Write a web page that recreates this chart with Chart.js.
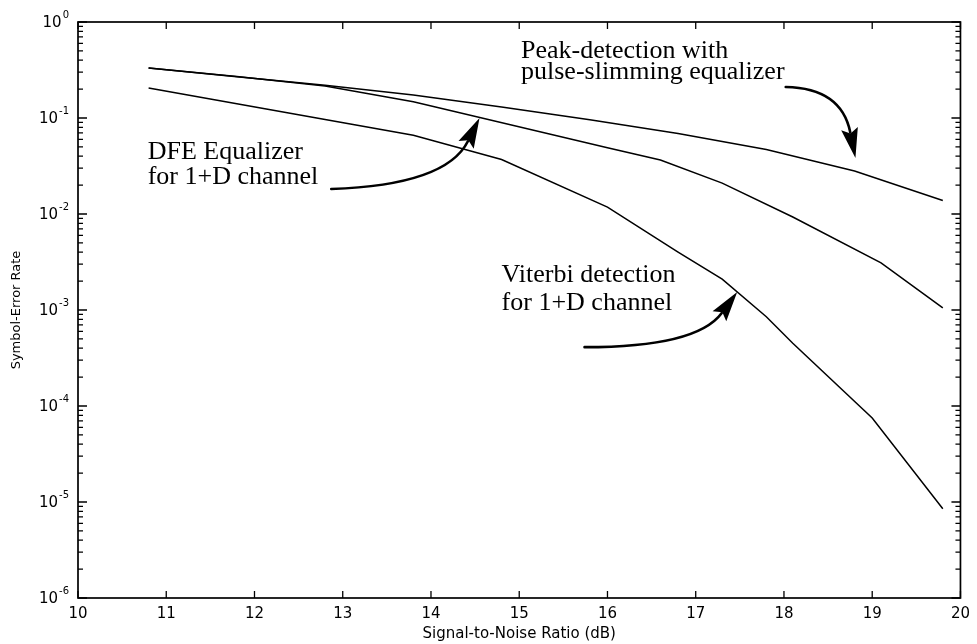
<!DOCTYPE html>
<html>
<head>
<meta charset="utf-8">
<title>Symbol-Error Rate vs SNR</title>
<script src="https://cdn.jsdelivr.net/npm/chart.js@4.4.1/dist/chart.umd.min.js"></script>
<style>
  html, body { margin: 0; padding: 0; background: #fff; }
  #wrap { width: 977px; height: 644px; }
</style>
</head>
<body>
<div id="wrap"><canvas id="serChart" width="977" height="644"></canvas></div>
<script>
// ── Data: SNR (dB) against symbol-error rate for each detector ──

var peakSnr = [10.8, 11.8, 12.8, 13.8, 14.8, 15.8, 16.8, 17.8, 18.8, 19.8];
var peakSer = [0.332, 0.269, 0.219, 0.174, 0.130, 0.096, 0.069, 0.047, 0.028, 0.0138];

var dfeSnr = [10.8, 11.8, 12.8, 13.8, 16.0, 16.6, 17.3, 18.1, 19.1, 19.8];
var dfeSer = [0.332, 0.270, 0.216, 0.148, 0.049, 0.0365, 0.021, 0.0093, 0.0031, 0.00105];

var viterbiSnr = [10.8, 13.8, 14.8, 16.0, 16.8, 17.3, 17.8, 18.1, 19.0, 19.8];
var viterbiSer = [0.205, 0.066, 0.037, 0.0118, 0.0040, 0.0021, 0.00085, 0.00045, 0.000075, 0.0000085];

var snrTicks = [10, 11, 12, 13, 14, 15, 16, 17, 18, 19, 20];
var serDecades = [0, -1, -2, -3, -4, -5, -6];

// callout text, anchored at its baseline in (dB, rate)
var noteLines = [
    { text: "Peak-detection with",      snr: 15.02, ser: 0.42 },
    { text: "pulse-slimming equalizer", snr: 15.02, ser: 0.255 },
    { text: "DFE Equalizer",            snr: 10.79, ser: 0.0374 },
    { text: "for 1+D channel",          snr: 10.79, ser: 0.0205 },
    { text: "Viterbi detection",        snr: 14.80, ser: 0.00196 },
    { text: "for 1+D channel",          snr: 14.80, ser: 0.0010 }
];

// curved pointers: tail, bend (quadratic control) and tip
var pointers = [
    { from: [18.02, 0.210],  bend: [18.65, 0.205],  to: [18.81, 0.0383] },
    { from: [12.87, 0.0182], bend: [14.17, 0.0200], to: [14.55, 0.100] },
    { from: [15.74, 4.1e-4], bend: [17.01, 4.1e-4], to: [17.47, 1.54e-3] }
];

(function () {
    "use strict";

    var SANS = '"DejaVu Sans", sans-serif';
    var SERIF = '"Liberation Serif", "Times New Roman", serif';

    // ── Helpers ──

    function toPoints(snr, ser) {
        return snr.map(function (s, i) { return { x: s, y: ser[i] }; });
    }

    function px(chart, pair) {
        return {
            x: chart.scales.x.getPixelForValue(pair[0]),
            y: chart.scales.y.getPixelForValue(pair[1])
        };
    }

    function drawPointer(ctx, a, c, tip) {
        var dx = tip.x - c.x, dy = tip.y - c.y;
        var d = Math.sqrt(dx * dx + dy * dy);
        var ux = dx / d, uy = dy / d;
        var headLen = 30, headHalf = 8.5;
        var base = { x: tip.x - ux * headLen, y: tip.y - uy * headLen };

        ctx.beginPath();
        ctx.moveTo(a.x, a.y);
        ctx.quadraticCurveTo(c.x, c.y, base.x + ux * 4, base.y + uy * 4);
        ctx.lineWidth = 2.6;
        ctx.stroke();

        ctx.beginPath();
        ctx.moveTo(tip.x, tip.y);
        ctx.lineTo(base.x - uy * headHalf, base.y + ux * headHalf);
        ctx.lineTo(base.x + ux * 5, base.y + uy * 5);
        ctx.lineTo(base.x + uy * headHalf, base.y - ux * headHalf);
        ctx.closePath();
        ctx.fill();
    }

    // ── Plugins ──

    // boxed axes with inward ticks and 10^n labels
    var axesBox = {
        id: "axesBox",
        afterDraw: function (chart) {
            var ctx = chart.ctx, area = chart.chartArea;
            var xs = chart.scales.x, ys = chart.scales.y;
            ctx.save();
            ctx.strokeStyle = "#000";
            ctx.fillStyle = "#000";
            ctx.lineWidth = 1.7;
            ctx.strokeRect(area.left, area.top, area.right - area.left, area.bottom - area.top);

            ctx.beginPath();
            snrTicks.forEach(function (v) {
                var x = xs.getPixelForValue(v);
                ctx.moveTo(x, area.bottom); ctx.lineTo(x, area.bottom - 7);
                ctx.moveTo(x, area.top); ctx.lineTo(x, area.top + 7);
            });
            serDecades.forEach(function (e) {
                for (var m = 1; m < 10; m++) {
                    var v = m * Math.pow(10, e);
                    if (v > 1.0001) break;
                    var y = ys.getPixelForValue(v);
                    var len = m === 1 ? 9 : 5;
                    ctx.moveTo(area.left, y); ctx.lineTo(area.left + len, y);
                    ctx.moveTo(area.right, y); ctx.lineTo(area.right - len, y);
                }
            });
            ctx.lineWidth = 1.3;
            ctx.stroke();

            ctx.textAlign = "right";
            ctx.textBaseline = "middle";
            serDecades.forEach(function (e) {
                var y = ys.getPixelForValue(Math.pow(10, e));
                var exp = String(e);
                ctx.font = "10px " + SANS;
                var w = ctx.measureText(exp).width;
                ctx.fillText(exp, area.left - 9, y - 7);
                ctx.font = "15px " + SANS;
                ctx.fillText("10", area.left - 10 - w, y + 1);
            });
            ctx.restore();
        }
    };

    // callout text and arrows
    var callouts = {
        id: "callouts",
        afterDraw: function (chart) {
            var ctx = chart.ctx;
            ctx.save();
            ctx.fillStyle = "#000";
            ctx.strokeStyle = "#000";
            ctx.font = "26px " + SERIF;
            ctx.textAlign = "left";
            ctx.textBaseline = "alphabetic";
            noteLines.forEach(function (n) {
                var p = px(chart, [n.snr, n.ser]);
                ctx.fillText(n.text, p.x, p.y);
            });
            ctx.lineCap = "round";
            pointers.forEach(function (a) {
                drawPointer(ctx, px(chart, a.from), px(chart, a.bend), px(chart, a.to));
            });
            ctx.restore();
        }
    };

    // ── Chart ──

    function lineSet(label, snr, ser) {
        return {
            label: label,
            data: toPoints(snr, ser),
            borderColor: "#000",
            borderWidth: 1.5,
            pointRadius: 0,
            fill: false,
            tension: 0
        };
    }

    new Chart(document.getElementById("serChart"), {
        type: "line",
        data: {
            datasets: [
                lineSet("Peak-detection with pulse-slimming equalizer", peakSnr, peakSer),
                lineSet("DFE Equalizer for 1+D channel", dfeSnr, dfeSer),
                lineSet("Viterbi detection for 1+D channel", viterbiSnr, viterbiSer)
            ]
        },
        options: {
            responsive: false,
            animation: false,
            devicePixelRatio: 1,
            layout: { padding: { top: 22, right: 15, left: 0, bottom: 0 } },
            plugins: {
                legend: { display: false },
                tooltip: { enabled: false }
            },
            scales: {
                x: {
                    type: "linear",
                    min: 10,
                    max: 20,
                    grid: { display: false, drawTicks: false },
                    border: { display: false },
                    ticks: {
                        stepSize: 1,
                        autoSkip: false,
                        maxRotation: 0,
                        padding: 7,
                        color: "#000",
                        font: { family: SANS, size: 15 }
                    },
                    title: {
                        display: true,
                        text: "Signal-to-Noise Ratio (dB)",
                        color: "#000",
                        font: { family: SANS, size: 15 },
                        padding: { top: 0, bottom: 1 }
                    },
                    afterFit: function (scale) { scale.height = 46; }
                },
                y: {
                    type: "logarithmic",
                    min: 1e-6,
                    max: 1,
                    grid: { display: false, drawTicks: false },
                    border: { display: false },
                    ticks: { display: false },
                    title: {
                        display: true,
                        text: "Symbol-Error Rate",
                        color: "#000",
                        font: { family: SANS, size: 13 },
                        padding: { top: 9, bottom: 0 }
                    },
                    afterFit: function (scale) { scale.width = 78; }
                }
            }
        },
        plugins: [axesBox, callouts]
    });
})();
</script>
</body>
</html>
